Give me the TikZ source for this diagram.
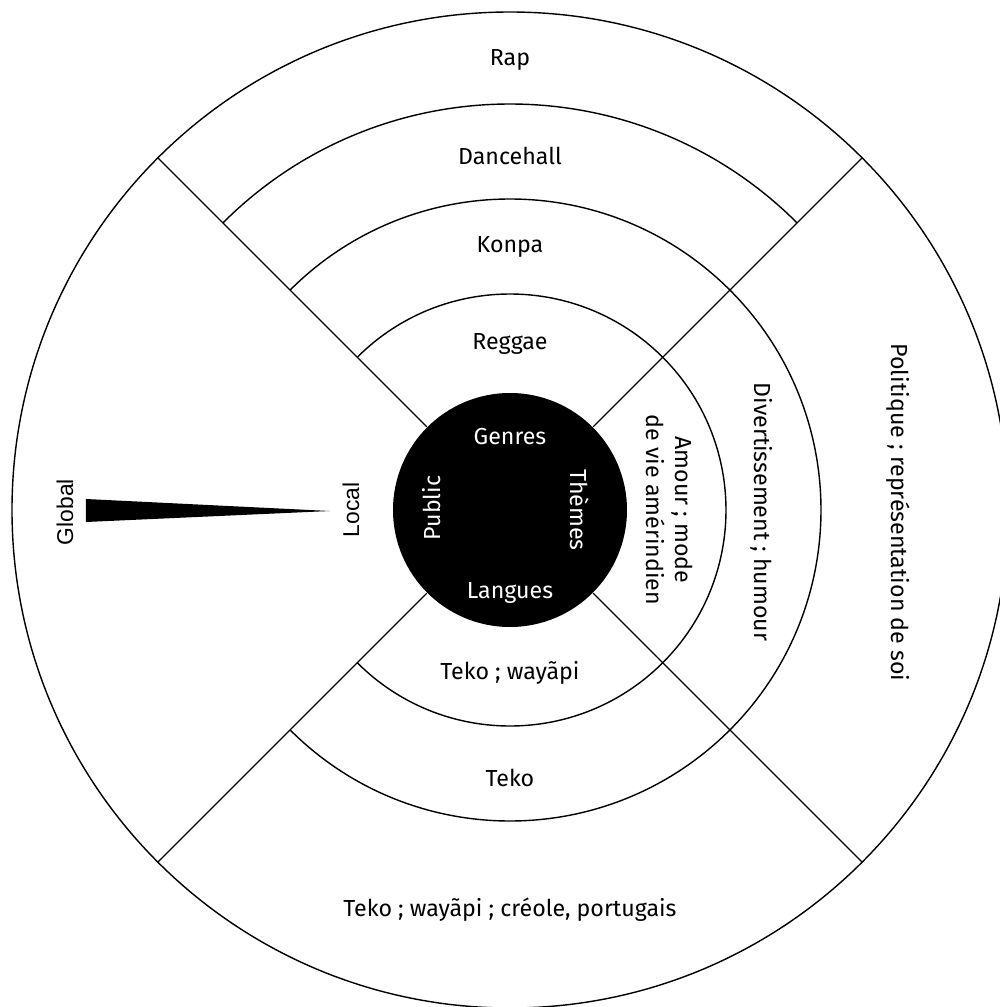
\documentclass[tikz,border=0pt]{standalone}
\usepackage{fontspec}
\setmainfont{Fira Sans}
\newfontfamily\gaugefont{Liberation Sans}
\begin{document}
\begin{tikzpicture}[
    line width=0.8pt,
    every node/.style={font=\fontsize{13.2}{16.5}\selectfont, inner sep=0pt},
    hublbl/.style={text=white},
    down/.style={rotate=-90, align=center},
    up/.style={rotate=90},
    gauge/.style={font=\gaugefont\fontsize{13}{16}\selectfont, rotate=90},
  ]
  \useasboundingbox (-10.2,-9.94) rectangle (9.8,10.2);
  \clip (-10.2,-9.94) rectangle (9.8,10.2);
  % rings
  \draw (0,0) circle (9.96);
  \draw (135:8.12) arc[start angle=135, end angle=45, radius=8.12];
  \draw (135:6.22) arc[start angle=135, end angle=-135, radius=6.22];
  \draw (135:4.32) arc[start angle=135, end angle=-135, radius=4.32];
  % hub
  \node[circle, fill=black, minimum size=4.68cm] (hub) at (0,0) {};
  \path
    (45:9.96) coordinate (ne)
    (135:9.96) coordinate (nw)
    (225:9.96) coordinate (sw)
    (315:9.96) coordinate (se);
  \begin{scope}[-]
    \draw (hub.45) to (ne);
    \draw (hub.135) to (nw);
    \draw (hub.225) to (sw);
    \draw (hub.315) to (se);
  \end{scope}
  % hub labels
  \node[hublbl] (genres) at (0,1.46) {Genres};
  \node[hublbl] (langues) at (0,-1.66) {Langues};
  \node[hublbl, up] (public) at (-1.56,0.04) {Public};
  \node[hublbl, down] (themes) at (1.40,0) {Thèmes};
  % genres
  \node (rap) at (0,9.0) {Rap};
  \node (dancehall) at (0,7.08) {Dancehall};
  \node (konpa) at (0,5.26) {Konpa};
  \node (reggae) at (0,3.32) {Reggae};
  % themes
  \node[down] (amour) at (3.2,0) {Amour ; mode\\de vie amérindien};
  \node[down] (divert) at (5.04,-0.04) {Divertissement ; humour};
  \node[down] (politique) at (7.76,-0.05) {Politique ; représentation de soi};
  % langues
  \node (tekowa) at (0,-3.26) {Teko ; wayãpi};
  \node (teko) at (0,-5.36) {Teko};
  \node (tekoall) at (0,-8.0) {Teko ; wayãpi ; créole, portugais};
  % public
  \node[gauge] (global) at (-8.9,-0.04) {Global};
  \node[gauge] (local) at (-3.18,0) {Local};
  \fill (-8.48,0.22) -- (-8.48,-0.24) -- (-3.6,-0.02) -- cycle;
\end{tikzpicture}
\end{document}
